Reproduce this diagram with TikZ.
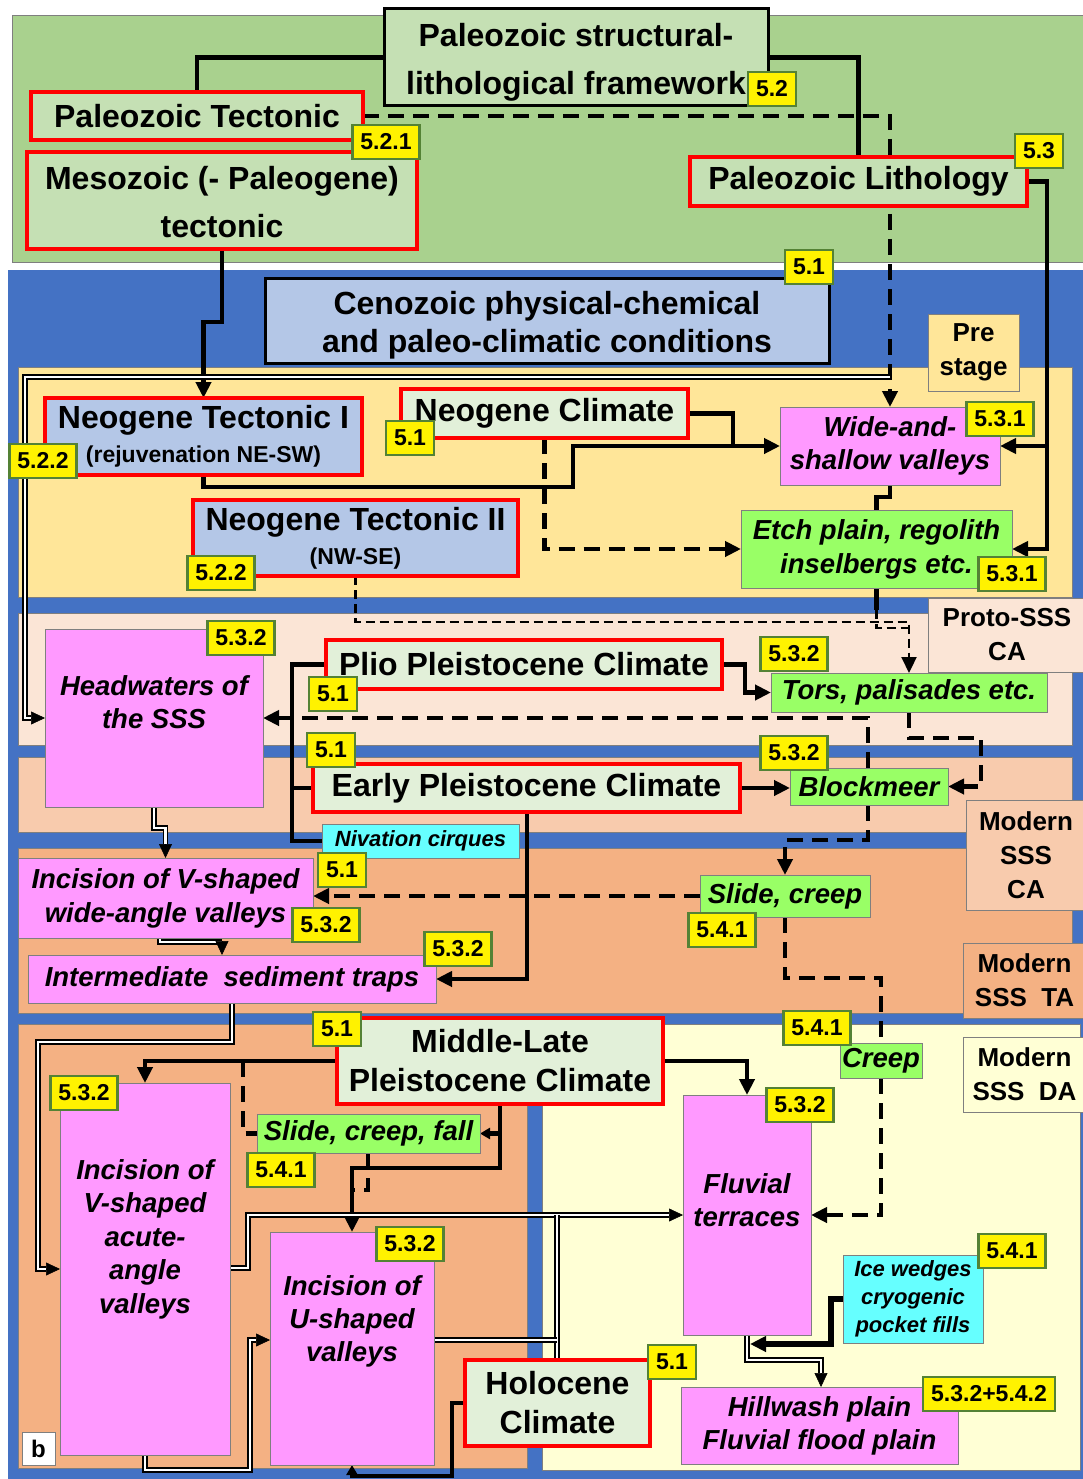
\documentclass[tikz,border=0pt]{standalone}
\usepackage{fontspec}
\setmainfont{Liberation Sans}
\usetikzlibrary{arrows.meta,calc}
\pgfdeclarelayer{bg}
\pgfdeclarelayer{lines}
\pgfsetlayers{bg,lines,main}
\definecolor{pgreen}{HTML}{A9D18E}
\definecolor{boxgreen}{HTML}{C5E0B4}
\definecolor{climC}{HTML}{E2F0D9}
\definecolor{bluebg}{HTML}{4472C4}
\definecolor{lblue}{HTML}{B4C7E7}
\definecolor{preC}{HTML}{FFE699}
\definecolor{protoC}{HTML}{FBE5D6}
\definecolor{mcaC}{HTML}{F8CBAD}
\definecolor{taC}{HTML}{F4B183}
\definecolor{daC}{HTML}{FFFFD5}
\definecolor{pinkC}{HTML}{FF99FF}
\definecolor{lgC}{HTML}{99FF66}
\definecolor{cyanC}{HTML}{66FFFF}
\definecolor{lblborder}{HTML}{548235}
\definecolor{edgeC}{HTML}{7F7F7F}
\tikzset{
 every node/.style={inner sep=0pt, outer sep=0pt, align=center},
 fbig/.style={font=\fontsize{32}{38}\selectfont\bfseries},
 fital/.style={font=\fontsize{27.5}{33}\selectfont\bfseries\itshape},
 topbox/.style={rectangle, fill=boxgreen, draw=black, line width=3pt, fbig},
 redtop/.style={rectangle, fill=boxgreen, draw=red, line width=4.5pt, fbig},
 redclim/.style={rectangle, fill=climC, draw=red, line width=4.5pt, fbig},
 redblue/.style={rectangle, fill=lblue, draw=red, line width=4.5pt, fbig},
 czbox/.style={rectangle, fill=lblue, draw=black, line width=3pt, fbig},
 pinkbox/.style={rectangle, fill=pinkC, draw=edgeC, line width=1pt, fital},
 greenbox/.style={rectangle, fill=lgC, draw=edgeC, line width=1pt, fital},
 cyanbox/.style={rectangle, fill=cyanC, draw=edgeC, line width=1pt, font=\fontsize{22}{28}\selectfont\bfseries\itshape},
 sidebox/.style={rectangle, draw=edgeC, line width=0.8pt, font=\fontsize{26}{34}\selectfont\bfseries},
 bbox/.style={rectangle, fill=white, draw=edgeC, line width=0.8pt, font=\fontsize{24}{28}\selectfont\bfseries},
 lbl/.style={rectangle, fill=yellow, draw=lblborder, line width=2.5pt, font=\fontsize{23}{25}\selectfont\bfseries, inner xsep=8pt, minimum height=34pt, anchor=center},
 conn/.style={line width=4.5pt, draw=black},
 dconn/.style={line width=4.5pt, draw=black, dash pattern=on 16pt off 9pt},
 tdconn/.style={line width=2.2pt, draw=black, dash pattern=on 9pt off 5pt},
 arr/.style={-{Triangle[length=16pt,width=15pt]}},
 sarr/.style={-{Triangle[length=10pt,width=11pt]}},
 dbl/.style={line width=1.3pt, draw=black, double=white, double distance=2.6pt},
 dtip/.style={line width=0.6pt, draw=black, -{Triangle[length=14pt,width=13pt]}},
}
\newcommand\mkbox[7]{\node[#1, anchor=north west, minimum width={#5-#3}, minimum height={#6-#4}] (#2) at (#3,#4) {#7};}
\newcommand\mklbl[4]{\node[lbl] (#1) at (#2,#3) {#4};}
\begin{document}
\begin{tikzpicture}[x=1pt,y=-1pt]
\useasboundingbox (0,0) rectangle (1083,1479);
\begin{pgfonlayer}{bg}
\fill[white] (0,0) rectangle (1083,1479);
\filldraw[fill=pgreen, draw=edgeC, line width=0.8pt] (12,15) rectangle (1090,262);
\fill[bluebg] (8,270) rectangle (1090,1485);
\filldraw[fill=preC, draw=edgeC, line width=0.6pt] (18,367) rectangle (1072,597);
\filldraw[fill=protoC, draw=edgeC, line width=0.6pt] (18,613) rectangle (1072,745);
\filldraw[fill=mcaC, draw=edgeC, line width=0.6pt] (18,757) rectangle (1072,832);
\filldraw[fill=taC, draw=edgeC, line width=0.6pt] (18,848) rectangle (1072,1013);
\filldraw[fill=taC, draw=edgeC, line width=0.6pt] (18,1024) rectangle (527,1468);
\filldraw[fill=daC, draw=edgeC, line width=0.6pt] (542,1024) rectangle (1080,1470);
\end{pgfonlayer}
% top panel
\mkbox{topbox, font=\fontsize{32}{48}\selectfont\bfseries}{fw}{384}{9}{768}{106}{\rule{0pt}{33pt}Paleozoic structural-\\lithological framework}
\mkbox{redtop}{pt}{31}{92}{363}{140}{Paleozoic Tectonic}
\mkbox{redtop, font=\fontsize{32}{48}\selectfont\bfseries}{mz}{27}{152}{417}{249}{\rule{0pt}{27pt}Mesozoic (- Paleogene)\\tectonic}
\mkbox{redtop}{pl}{690}{157}{1027}{206}{Paleozoic Lithology}
\mkbox{czbox}{cz}{265}{278}{829}{363}{\rule{0pt}{33pt}Cenozoic physical-chemical\\and paleo-climatic conditions}
% side boxes
\mkbox{sidebox, fill=preC}{spre}{928}{314}{1019}{391}{Pre\\stage}
\mkbox{sidebox, fill=protoC}{sproto}{928}{598}{1086}{672}{Proto-SSS\\CA}
\mkbox{sidebox, fill=mcaC}{smca}{966}{800}{1086}{910}{Modern\\SSS\\CA}
\mkbox{sidebox, fill=taC}{smta}{963}{943}{1086}{1018}{Modern\\SSS\ \ TA}
\mkbox{sidebox, fill=daC}{smda}{963}{1037}{1086}{1112}{Modern\\SSS\ \ DA}
% pre stage
\mkbox{redblue, font=\fontsize{32}{34}\selectfont\bfseries}{nt1}{45}{398}{362}{475}{Neogene Tectonic I\\{\fontsize{23}{25}\selectfont (rejuvenation NE-SW)}}
\mkbox{redclim}{nc}{401}{389}{688}{438}{Neogene Climate}
\mkbox{pinkbox}{wsv}{780}{407}{1000}{485}{Wide-and-\\shallow valleys}
\mkbox{greenbox, font=\fontsize{27.5}{34}\selectfont\bfseries\itshape}{etch}{741}{510}{1012}{588}{Etch plain, regolith\\inselbergs etc.}
\mkbox{redblue, font=\fontsize{32}{34}\selectfont\bfseries}{nt2}{193}{500}{518}{576}{Neogene Tectonic II\\{\fontsize{23}{25}\selectfont (NW-SE)}}
% proto
\mkbox{pinkbox}{hw}{45}{629}{263}{807}{}
\node[fital] (hwt) at (154,702) {Headwaters of\\the SSS};
\mkbox{redclim}{plio}{326}{640}{722}{689}{Plio Pleistocene Climate}
\mkbox{greenbox}{tors}{771}{673}{1047}{712}{Tors, palisades etc.}
% modern CA
\mkbox{redclim}{early}{313}{764}{740}{812}{Early Pleistocene Climate}
\mkbox{greenbox}{blk}{790}{768}{948}{805}{Blockmeer}
\mkbox{cyanbox}{niv}{322}{824}{519}{858}{Nivation cirques}
% TA
\mkbox{pinkbox, font=\fontsize{27.5}{34}\selectfont\bfseries\itshape}{vw}{18}{858}{313}{938}{Incision of V-shaped\\wide-angle valleys}
\mkbox{greenbox}{slc}{700}{875}{870}{917}{Slide, creep}
\mkbox{pinkbox}{ist}{28}{955}{436}{1003}{Intermediate\ \ sediment traps}
% bottom
\mkbox{redclim, font=\fontsize{32}{39}\selectfont\bfseries}{ml}{337}{1018}{663}{1104}{Middle-Late\\Pleistocene Climate}
\mkbox{pinkbox}{va}{60}{1083}{230}{1455}{}
\node[fital, font=\fontsize{27.5}{33.5}\selectfont\bfseries\itshape] (vat) at (145,1239) {Incision of\\V-shaped\\acute-\\angle\\valleys};
\mkbox{greenbox}{scf}{257}{1114}{480}{1153}{Slide, creep, fall}
\mkbox{pinkbox}{us}{270}{1232}{434}{1465}{}
\node[fital] (ust) at (352,1321) {Incision of\\U-shaped\\valleys};
\mkbox{redclim, font=\fontsize{32}{39}\selectfont\bfseries}{hol}{465}{1360}{650}{1446}{Holocene\\Climate}
\mkbox{bbox}{bl}{22}{1432}{55}{1465}{b}
\mkbox{pinkbox}{ft}{683}{1095}{811}{1335}{}
\node[fital] (ftt) at (747,1200) {Fluvial\\terraces};
\mkbox{greenbox}{creep}{840}{1043}{922}{1078}{Creep}
\mkbox{cyanbox}{ice}{843}{1255}{983}{1343}{Ice wedges\\cryogenic\\pocket fills}
\mkbox{pinkbox}{hp}{681}{1387}{958}{1464}{Hillwash plain\\Fluvial flood plain}
% labels
\mklbl{a1}{772}{89}{5.2}
\mklbl{a2}{386}{142}{5.2.1}
\mklbl{a3}{1039}{151}{5.3}
\mklbl{a4}{809}{267}{5.1}
\mklbl{a5}{43}{461}{5.2.2}
\mklbl{a6}{410}{438}{5.1}
\mklbl{a7}{1000}{419}{5.3.1}
\mklbl{a8}{1012}{574}{5.3.1}
\mklbl{a9}{221}{573}{5.2.2}
\mklbl{a10}{241}{638}{5.3.2}
\mklbl{a11}{333}{694}{5.1}
\mklbl{a12}{794}{654}{5.3.2}
\mklbl{a13}{331}{750}{5.1}
\mklbl{a14}{794}{753}{5.3.2}
\mklbl{a15}{342}{870}{5.1}
\mklbl{a16}{326}{925}{5.3.2}
\mklbl{a17}{722}{930}{5.4.1}
\mklbl{a18}{458}{949}{5.3.2}
\mklbl{a19}{337}{1029}{5.1}
\mklbl{a20}{84}{1093}{5.3.2}
\mklbl{a21}{281}{1170}{5.4.1}
\mklbl{a22}{410}{1244}{5.3.2}
\mklbl{a23}{672}{1362}{5.1}
\mklbl{a24}{800}{1105}{5.3.2}
\mklbl{a25}{817}{1028}{5.4.1}
\mklbl{a26}{1012}{1251}{5.4.1}
\mklbl{a27}{989}{1394}{5.3.2+5.4.2}
% connectors
\begin{pgfonlayer}{lines}
\draw[conn] (fw.west) -| (pt.north);
\draw[conn] (fw.east) -| (pl.north);
\draw[dconn,arr] (pt.east) -| (wsv.north);
\draw[conn,arr] (pl.east) -- ++(20,0) |- (etch.east);
\draw[conn,arr] (1047,0 |- wsv.east) -- (wsv.east);
\draw[conn,arr] (mz.south) -- ++(0,73) -| (nt1.north);
\draw[conn,arr] (nc.east) -- ++(45,0) |- (wsv.west);
\draw[conn] (nt1.south) -- ++(0,12) -| (573,0 |- wsv.west) -- (733,0 |- wsv.west);
\draw[dconn,arr] (nc.south) |- (etch.west);
\draw[conn] (wsv.south) -- ++(0,12) -| (etch.north);
\draw[conn] (etch.south) -- ++(0,22);
\draw[tdconn] (etch.south) ++(0,22) |- (909,628);
\draw[tdconn,arr] (nt2.south) |- (tors.north |- 0,622) -- (tors.north);
\draw[dbl] (wsv.north |- 0,377) -| (25,718) -- ($(hw.west)+(-14,0)$);
\draw[dtip] ($(hw.west)+(-14,0)$) -- (hw.west);
\draw[conn,arr] (plio.east) -- ++(23,0) |- (tors.west);
\draw[conn] (plio.west) -- ++(-34,0) |- (niv.west);
\draw[conn] (early.west) -- (292,0 |- early.west);
\draw[conn,arr] (292,0 |- hw.east) -- (hw.east);
\draw[dconn] (868,0 |- blk.north) |- (292,0 |- hw.east);
\draw[dconn,arr] (868,0 |- blk.south) |- (slc.north |- 0,840) -- (slc.north);
\draw[dconn,arr] (tors.south) |- (981,738) |- (blk.east);
\draw[conn,arr] (early.east) -- (early.east -| blk.west);
\draw[conn,arr] (527,0 |- early.south) |- (ist.east);
\draw[dbl] (hw.south) -- ++(0,21) -| ($(vw.north)+(0,-14)$);
\draw[dtip] ($(vw.north)+(0,-14)$) -- (vw.north);
\draw[dconn,arr] (slc.west) -- (slc.west -| vw.east);
\draw[dbl] (160,0 |- vw.south) |- (222,942);
\draw[dtip] (222,942) -- (222,0 |- ist.north);
\draw[dbl] (232,0 |- ist.south) |- (38,1042) |- ($(va.west)+(-14,0)$);
\draw[dtip] ($(va.west)+(-14,0)$) -- (va.west);
\draw[conn,arr] (ml.west) -| (va.north);
\draw[dconn] (243,0 |- ml.west) |- (scf.west);
\draw[conn,arr] (500,0 |- ml.south) |- (us.north |- 0,1168) -- (us.north);
\draw[conn,sarr] (500,0 |- scf.east) -- (scf.east);
\draw[dconn] (368,0 |- scf.south) |- (353,1190);
\draw[dbl] (va.east |- 0,1268) -| (248,1215) -- ($(ft.west)+(-14,0)$);
\draw[dtip] ($(ft.west)+(-14,0)$) -- (ft.west);
\draw[dbl] (557,0 |- hol.north) -- (557,1215);
\draw[dbl] (us.east |- 0,1340) -- (557,1340);
\draw[dbl] (va.south) -- ++(0,15) -| (250,1340) -- (256,1340);
\draw[dtip] (256,1340) -- (us.west |- 0,1340);
\draw[conn,sarr] (hol.west) -- ++(-13,0) |- (us.south |- 0,1476) -- (us.south);
\draw[conn,arr] (ml.east) -| (ft.north);
\draw[dconn] (slc.south) |- (creep.north |- 0,978) -- (creep.north);
\draw[dconn,arr] (creep.south) |- (ft.east);
\coordinate (icejoin) at (750,1344);
\draw[conn, line width=5.5pt, arr] (ice.west) -- ++(-12,0) |- (icejoin);
\draw[dbl] (747,0 |- ft.south) |- (821,1360) -- (821,1373);
\draw[dtip] (821,1373) -- (821,0 |- hp.north);
\end{pgfonlayer}
\end{tikzpicture}
\end{document}
